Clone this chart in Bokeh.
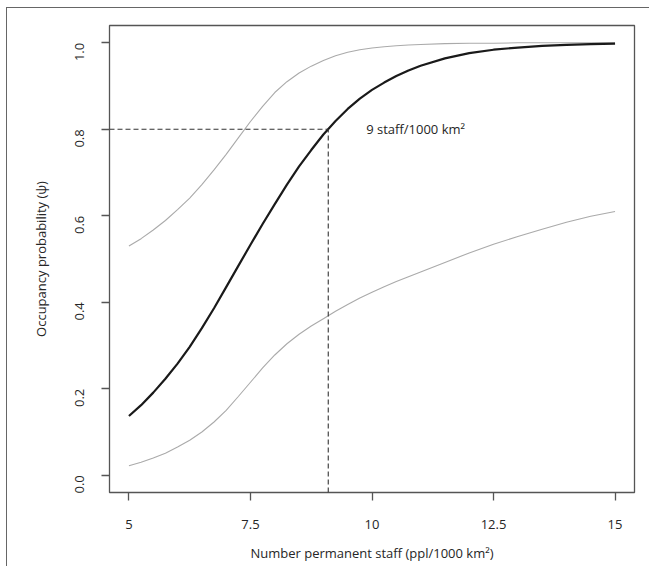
import math
from bokeh.plotting import figure
from bokeh.models import FixedTicker, Range1d
from bokeh.core.properties import value
from bokeh.embed import file_html
from bokeh.resources import INLINE

# ---- data ----
x_staff = [5, 5.25, 5.5, 5.75, 6, 6.25, 6.5, 6.75, 7, 7.25, 7.5, 7.75, 8, 8.25, 8.5, 8.75,
           9, 9.25, 9.5, 9.75, 10, 10.25, 10.5, 10.75, 11, 11.5, 12, 12.5, 13, 13.5, 14, 14.5, 15]
psi_mean = [0.137, 0.162, 0.191, 0.223, 0.258, 0.297, 0.340, 0.386, 0.435, 0.484, 0.533, 0.581,
            0.627, 0.672, 0.714, 0.752, 0.788, 0.819, 0.847, 0.871, 0.891, 0.908, 0.923, 0.936,
            0.947, 0.964, 0.976, 0.984, 0.989, 0.993, 0.995, 0.997, 0.998]
psi_upper = [0.530, 0.547, 0.567, 0.589, 0.614, 0.641, 0.672, 0.706, 0.742, 0.780, 0.818, 0.853,
             0.885, 0.910, 0.930, 0.946, 0.959, 0.970, 0.978, 0.984, 0.988, 0.991, 0.993, 0.995,
             0.996, 0.998, 0.999, 0.999, 1.0, 1.0, 1.0, 1.0, 1.0]
psi_lower = [0.022, 0.030, 0.040, 0.051, 0.065, 0.081, 0.100, 0.123, 0.150, 0.182, 0.215, 0.248,
             0.278, 0.304, 0.326, 0.345, 0.362, 0.379, 0.395, 0.410, 0.423, 0.436, 0.448, 0.459,
             0.470, 0.492, 0.514, 0.534, 0.552, 0.569, 0.585, 0.599, 0.610]

threshold_x = 9.1
threshold_y = 0.8
annot_x = 9.88
annot_text = "9 staff/1000 km\u00b2"

x_ticks = [5, 7.5, 10, 12.5, 15]
x_tick_labels = ["5", "7.5", "10", "12.5", "15"]
y_ticks = [0.0, 0.2, 0.4, 0.6, 0.8, 1.0]
y_tick_labels = ["0.0", "0.2", "0.4", "0.6", "0.8", "1.0"]

x_title = "Number permanent staff (ppl/1000 km\u00b2)"
y_title = "Occupancy probability (\u03c8)"

FONT = "Open Sans"
TXT = "#262626"
AX = "#555555"

x0, x1 = 4.6, 15.4
y0, y1 = -0.04, 1.04

p = figure(width=643, height=559, output_backend="svg", toolbar_location=None,
           x_range=Range1d(x0, x1), y_range=Range1d(y0, y1),
           min_border_left=102, min_border_right=16, min_border_top=17, min_border_bottom=75)
p.styles = {"border-left": "1px solid #666666", "border-top": "1px solid #666666",
            "margin-left": "6px", "margin-top": "7px"}

p.grid.visible = False
p.outline_line_color = AX
p.outline_line_width = 1.3
p.background_fill_color = "white"
p.border_fill_color = "white"

for ax in (p.xaxis[0], p.yaxis[0]):
    ax.axis_line_color = None
    ax.major_tick_line_color = AX
    ax.major_tick_line_width = 1.3
    ax.major_tick_in = 0
    ax.major_tick_out = 8
    ax.minor_tick_line_color = None
    ax.major_label_text_font = FONT
    ax.major_label_text_font_size = "13px"
    ax.major_label_text_color = TXT
    ax.axis_label_text_font = FONT
    ax.axis_label_text_font_size = "13px"
    ax.axis_label_text_font_style = "normal"
    ax.axis_label_text_color = TXT

p.xaxis[0].ticker = FixedTicker(ticks=x_ticks)
p.xaxis[0].major_label_overrides = {t: l for t, l in zip(x_ticks, x_tick_labels)}
p.xaxis[0].major_label_standoff = 19
p.xaxis[0].axis_label = x_title
p.xaxis[0].axis_label_standoff = 12

p.yaxis[0].ticker = FixedTicker(ticks=y_ticks)
p.yaxis[0].major_label_overrides = {t: l for t, l in zip(y_ticks, y_tick_labels)}
p.yaxis[0].major_label_orientation = math.pi / 2
p.yaxis[0].major_label_standoff = 22
p.yaxis[0].axis_label = y_title
p.yaxis[0].axis_label_standoff = 18

# confidence bounds
p.line(x_staff, psi_upper, line_color="#aaaaaa", line_width=1.1)
p.line(x_staff, psi_lower, line_color="#aaaaaa", line_width=1.1)
# mean
p.line(x_staff, psi_mean, line_color="#1a1a1a", line_width=2.2)

# threshold dashed lines
p.line([x0, threshold_x], [threshold_y, threshold_y], line_color="#333333", line_width=1.1, line_dash="5 3")
p.line([threshold_x, threshold_x], [y0, threshold_y], line_color="#333333", line_width=1.1, line_dash="5 3")

p.text(x=[annot_x], y=[threshold_y], text=[annot_text], text_font=value(FONT), text_font_size="13px",
       text_color=TXT, text_align="left", text_baseline="middle")

open("out.html", "w").write(file_html(p, INLINE))
